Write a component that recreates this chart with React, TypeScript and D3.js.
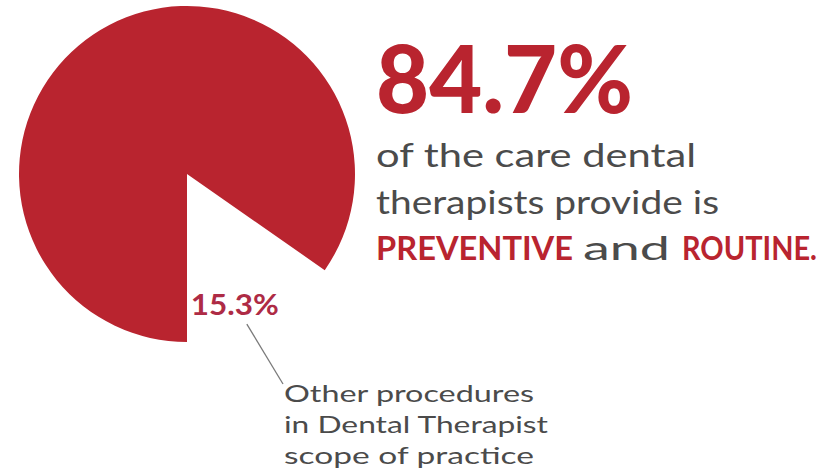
import { useEffect, useRef } from 'react';
import * as d3 from 'd3';

// Share of dental therapist care
const categories = ['Preventive and routine', 'Other procedures'];
const shares = [84.7, 15.3];
const headline = '84.7%';
const bodyLines = ['of the care dental', 'therapists provide is'];
const calloutLines = ['Other procedures', 'in Dental Therapist', 'scope of practice'];

const RED = '#b9242f';
const DARK_RED = '#ae2b45';
const GREY = '#4b4b4b';

export default function App() {
    const svgRef = useRef<SVGSVGElement>(null);
    const width = 838;
    const height = 476;

    useEffect(() => {
        if (!svgRef.current) return;
        const svg = d3.select(svgRef.current);
        svg.selectAll('*').remove();

        const cx = 187;
        const cy = 174;
        const radius = 168;

        const data = categories.map((c, i) => ({ category: c, value: shares[i] }));

        // big slice starts straight down, the small one is left empty
        const pie = d3.pie<{ category: string; value: number }>()
            .sort(null)
            .value(d => d.value)
            .startAngle(Math.PI)
            .endAngle(3 * Math.PI);

        const arc = d3.arc<d3.PieArcDatum<{ category: string; value: number }>>()
            .innerRadius(0)
            .outerRadius(radius);

        const arcs = pie(data);
        const g = svg.append('g').attr('transform', `translate(${cx}, ${cy})`);

        g.append('path')
            .datum(arcs[0])
            .attr('fill', RED)
            .attr('d', arc);

        // label for the missing slice
        const gap = arcs[1];
        const labelAngle = gap.startAngle + (gap.endAngle - gap.startAngle) * 0.66;
        const labelR = radius * 0.887;
        const lx = Math.sin(labelAngle) * labelR;
        const ly = -Math.cos(labelAngle) * labelR;

        g.append('text')
            .attr('x', lx)
            .attr('y', ly)
            .attr('text-anchor', 'middle')
            .attr('font-family', 'Lato, sans-serif')
            .attr('font-weight', 700)
            .attr('font-size', 29)
            .attr('fill', DARK_RED)
            .attr('textLength', 88)
            .attr('lengthAdjust', 'spacingAndGlyphs')
            .text(`${shares[1]}%`);

        // leader line to the callout
        svg.append('line')
            .attr('x1', cx + lx + 12)
            .attr('y1', cy + ly + 9)
            .attr('x2', 283)
            .attr('y2', 384)
            .attr('stroke', '#7a7a7a')
            .attr('stroke-width', 1.3);

        // callout text
        const callout = svg.append('g')
            .attr('font-family', 'Lato, sans-serif')
            .attr('font-size', 24)
            .attr('fill', GREY);
        const calloutWidths = [250, 264, 250];
        calloutLines.forEach((t, i) => {
            callout.append('text')
                .attr('x', 284)
                .attr('y', 402 + i * 31)
                .attr('textLength', calloutWidths[i])
                .attr('lengthAdjust', 'spacingAndGlyphs')
                .text(t);
        });

        // headline figure
        svg.append('text')
            .attr('x', 376)
            .attr('y', 113)
            .attr('font-family', 'Lato, sans-serif')
            .attr('font-weight', 900)
            .attr('font-size', 94)
            .attr('fill', RED)
            .attr('textLength', 257)
            .attr('lengthAdjust', 'spacingAndGlyphs')
            .text(headline);

        const body = svg.append('g')
            .attr('font-family', 'Lato, sans-serif')
            .attr('font-size', 32);
        const bodyWidths = [320, 343];
        bodyLines.forEach((t, i) => {
            body.append('text')
                .attr('x', 376)
                .attr('y', 167 + i * 46.5)
                .attr('fill', GREY)
                .attr('textLength', bodyWidths[i])
                .attr('lengthAdjust', 'spacingAndGlyphs')
                .text(t);
        });

        body.append('text')
            .attr('x', 376)
            .attr('y', 260)
            .attr('font-weight', 700)
            .attr('font-size', 33)
            .attr('fill', RED)
            .attr('textLength', 197)
            .attr('lengthAdjust', 'spacingAndGlyphs')
            .text('PREVENTIVE');

        body.append('text')
            .attr('x', 583)
            .attr('y', 260)
            .attr('fill', GREY)
            .attr('textLength', 87)
            .attr('lengthAdjust', 'spacingAndGlyphs')
            .text('and');

        body.append('text')
            .attr('x', 682)
            .attr('y', 260)
            .attr('font-weight', 700)
            .attr('font-size', 33)
            .attr('fill', RED)
            .attr('textLength', 135)
            .attr('lengthAdjust', 'spacingAndGlyphs')
            .text('ROUTINE.');
    }, []);

    return (
        <svg
            ref={svgRef}
            width={width}
            height={height}
            style={{ position: 'absolute', left: 0, top: 0, background: '#fff' }}
        ></svg>
    );
}
